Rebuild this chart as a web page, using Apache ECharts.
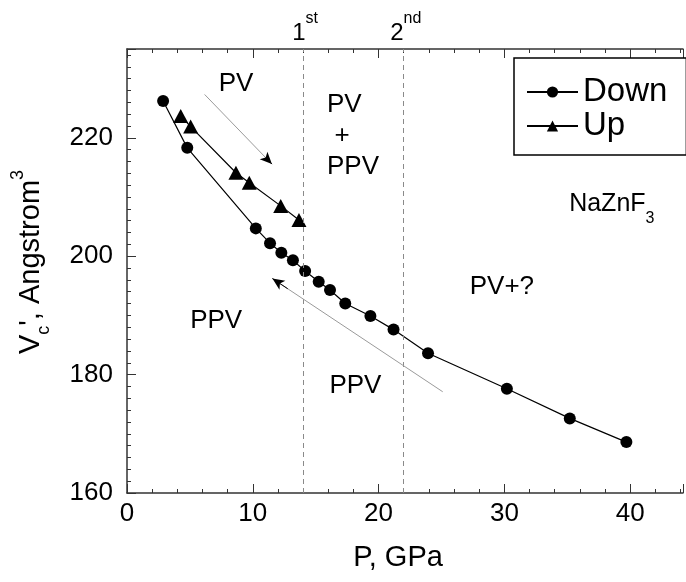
<!DOCTYPE html>
<html>
<head>
<meta charset="utf-8">
<script src="https://cdn.jsdelivr.net/npm/echarts/dist/echarts.min.js"></script>
<style>
  html, body { margin: 0; padding: 0; background: #fff; }
  #chart { width: 686px; height: 582px; }
</style>
</head>
<body>
<div id="chart"></div>
<script>
// ---- data ----
const pressureDown = [2.87, 4.79, 10.24, 11.37, 12.27, 13.19, 14.16, 15.24, 16.14, 17.35, 19.35, 21.19, 23.93, 30.2, 35.2, 39.7];
const volumeDown   = [226.2, 218.3, 204.7, 202.2, 200.6, 199.3, 197.5, 195.7, 194.3, 192.0, 189.9, 187.6, 183.6, 177.6, 172.6, 168.6];
const pressureUp   = [4.27, 5.06, 8.66, 9.72, 12.22, 13.67];
const volumeUp     = [223.7, 221.9, 214.1, 212.4, 208.5, 206.1];
const transitions  = [14, 22];          // dashed vertical lines (GPa)
const transitionLabels = ['1', '2'];
const transitionSup    = ['st', 'nd'];
const xTickLabels = [0, 10, 20, 30, 40];
const yTickLabels = [160, 180, 200, 220];
// arrows in data coordinates: [start, tip]
const arrowDown = [[6.17, 227.32], [11.52, 215.56]];
const arrowUp   = [[25.1, 177.1], [11.56, 196.22]];

const FONT = '"Liberation Sans", Arial, Helvetica, sans-serif';
const AX = '#333';

const chart = echarts.init(document.getElementById('chart'), null, { renderer: 'canvas' });

function pts(xs, ys) { return xs.map((x, i) => [x, ys[i]]); }

function arrowItems(a) {
  const [s, t] = a;
  const f = 0.09;
  const hs = [t[0] + (s[0] - t[0]) * f, t[1] + (s[1] - t[1]) * f];
  return [
    [{ coord: s, lineStyle: { color: '#9a9a9a', width: 1, type: 'solid' } },
     { coord: t, lineStyle: { color: '#9a9a9a', width: 1, type: 'solid' } }],
    [{ coord: hs, lineStyle: { color: '#000', width: 1, type: 'solid' } },
     { coord: t, symbol: 'arrow', symbolSize: [8, 12], lineStyle: { color: '#000', width: 1, type: 'solid' } }]
  ];
}

const dashed = { color: '#8a8a8a', width: 1, type: [5, 4] };

const xMax = 44.2, yMin = 160, yMax = 235;

const option = {
  animation: false,
  textStyle: { fontFamily: FONT },
  grid: { left: 127, right: 0, top: 49, bottom: 89, containLabel: false },
  legend: {
    orient: 'vertical',
    left: 514, top: 58,
    itemWidth: 51, itemHeight: 14, itemGap: 0,
    padding: [17, 19, 12, 12],
    borderColor: '#000', borderWidth: 1.5,
    backgroundColor: '#fff',
    textStyle: { fontSize: 33, lineHeight: 34, color: '#000', fontFamily: FONT },
    data: ['Down', 'Up']
  },
  xAxis: [
    {
      type: 'value', position: 'bottom', min: 0, max: xMax, interval: 2,
      axisLine: { show: true, onZero: false, lineStyle: { color: AX, width: 1.5 } },
      axisTick: { show: true, inside: true, length: 4, lineStyle: { color: AX, width: 1 } },
      axisLabel: {
        fontSize: 26, color: '#000', margin: 8, fontFamily: FONT,
        formatter: v => (xTickLabels.indexOf(Math.round(v * 1000) / 1000) >= 0 ? String(v) : '')
      },
      splitLine: { show: false },
      name: 'P, GPa', nameLocation: 'middle', nameGap: 50,
      nameTextStyle: { fontSize: 29, color: '#000', fontFamily: FONT, padding: [0, 14, 0, 0] }
    },
    {
      type: 'value', position: 'bottom', min: 0, max: xMax, interval: 10,
      axisLine: { show: false, onZero: false },
      axisTick: { show: true, inside: true, length: 9, lineStyle: { color: AX, width: 1 } },
      axisLabel: { show: false }, splitLine: { show: false }
    },
    {
      type: 'value', position: 'top', min: 0, max: xMax, interval: 2,
      axisLine: { show: true, onZero: false, lineStyle: { color: AX, width: 1.5 } },
      axisTick: { show: true, inside: true, length: 4, lineStyle: { color: AX, width: 1 } },
      axisLabel: { show: false }, splitLine: { show: false }
    },
    {
      type: 'value', position: 'top', min: 0, max: xMax, interval: 10,
      axisLine: { show: false, onZero: false },
      axisTick: { show: true, inside: true, length: 9, lineStyle: { color: AX, width: 1 } },
      axisLabel: { show: false }, splitLine: { show: false }
    }
  ],
  yAxis: [
    {
      type: 'value', position: 'left', min: yMin, max: yMax, interval: 2,
      axisLine: { show: true, onZero: false, lineStyle: { color: AX, width: 1.5 } },
      axisTick: { show: true, inside: true, length: 4, lineStyle: { color: AX, width: 1 } },
      axisLabel: {
        fontSize: 26, color: '#000', margin: 14, fontFamily: FONT,
        formatter: v => (yTickLabels.indexOf(Math.round(v * 1000) / 1000) >= 0 ? String(v) : '')
      },
      splitLine: { show: false },
      name: "{a|V}{b|c}{a|', Angstrom}{c|3}",
      nameLocation: 'middle', nameRotate: 90, nameGap: 74,
      nameTextStyle: {
        color: '#000', fontFamily: FONT, fontSize: 29,
        padding: [0, 0, 0, 18],
        rich: {
          a: { fontSize: 29, lineHeight: 44, fontFamily: FONT, color: '#000' },
          b: { fontSize: 18, lineHeight: 18, verticalAlign: 'bottom', fontFamily: FONT, color: '#000' },
          c: { fontSize: 18, lineHeight: 18, verticalAlign: 'top', fontFamily: FONT, color: '#000' }
        }
      }
    },
    {
      type: 'value', position: 'left', min: yMin, max: yMax, interval: 20,
      axisLine: { show: false, onZero: false },
      axisTick: { show: true, inside: true, length: 9, lineStyle: { color: AX, width: 1 } },
      axisLabel: { show: false }, splitLine: { show: false }
    }
  ],
  series: [
    {
      type: 'line', name: 'Down', xAxisIndex: 0, yAxisIndex: 0,
      data: pts(pressureDown, volumeDown),
      symbol: 'circle', symbolSize: 12,
      itemStyle: { color: '#000' },
      lineStyle: { color: '#000', width: 1.2 },
      z: 3,
      markLine: {
        silent: true, animation: false,
        symbol: ['none', 'none'],
        label: { show: false },
        emphasis: { disabled: true },
        data: [
          ...transitions.map(x => ({ xAxis: x, lineStyle: dashed })),
          ...arrowItems(arrowDown),
          ...arrowItems(arrowUp)
        ]
      }
    },
    {
      type: 'line', name: 'Up', xAxisIndex: 0, yAxisIndex: 0,
      data: pts(pressureUp, volumeUp),
      symbol: 'triangle', symbolSize: [15, 14],
      itemStyle: { color: '#000' },
      lineStyle: { color: '#000', width: 1.2 },
      z: 3
    }
  ]
};

chart.setOption(option);

// ---- text annotations, placed through the chart's own scales ----
const annotations = [
  { text: 'PV',   at: [8.67, 229.2],  align: 'center' },
  { text: 'PV',   at: [15.9, 225.5],  align: 'left' },
  { text: '+',    at: [17.1, 220.3],  align: 'center' },
  { text: 'PPV',  at: [15.9, 215.1],  align: 'left' },
  { text: 'PPV',  at: [7.09, 189.1],  align: 'center' },
  { text: 'PPV',  at: [18.16, 178.1], align: 'center' },
  { text: 'PV+?', at: [29.8, 194.8],  align: 'center' }
];

const g = [];
annotations.forEach(a => {
  const p = chart.convertToPixel({ xAxisIndex: 0, yAxisIndex: 0 }, a.at);
  g.push({
    type: 'text', x: p[0], y: p[1], z: 10,
    style: { text: a.text, fontSize: 26, fontFamily: FONT, fill: '#000', align: a.align, verticalAlign: 'middle' }
  });
});

{
  const p = chart.convertToPixel({ xAxisIndex: 0, yAxisIndex: 0 }, [35.15, 209.8]);
  g.push({
    type: 'text', x: p[0], y: p[1] + 6, z: 10,
    style: {
      text: '{m|NaZnF}{s|3}', align: 'left', verticalAlign: 'middle', fill: '#000',
      rich: {
        m: { fontSize: 25, lineHeight: 44, fontFamily: FONT, fill: '#000' },
        s: { fontSize: 16, lineHeight: 16, verticalAlign: 'bottom', fontFamily: FONT, fill: '#000' }
      }
    }
  });
}

transitions.forEach((x, i) => {
  const p = chart.convertToPixel({ xAxisIndex: 0, yAxisIndex: 0 }, [x, yMax]);
  g.push({
    type: 'text', x: p[0] + 2, y: p[1] - 16, z: 10,
    style: {
      text: '{m|' + transitionLabels[i] + '}{s|' + transitionSup[i] + '}',
      align: 'center', verticalAlign: 'middle', fill: '#000',
      rich: {
        m: { fontSize: 24, lineHeight: 44, fontFamily: FONT, fill: '#000' },
        s: { fontSize: 16, lineHeight: 14, verticalAlign: 'top', fontFamily: FONT, fill: '#000' }
      }
    }
  });
});

chart.setOption({ graphic: g });
</script>
</body>
</html>
